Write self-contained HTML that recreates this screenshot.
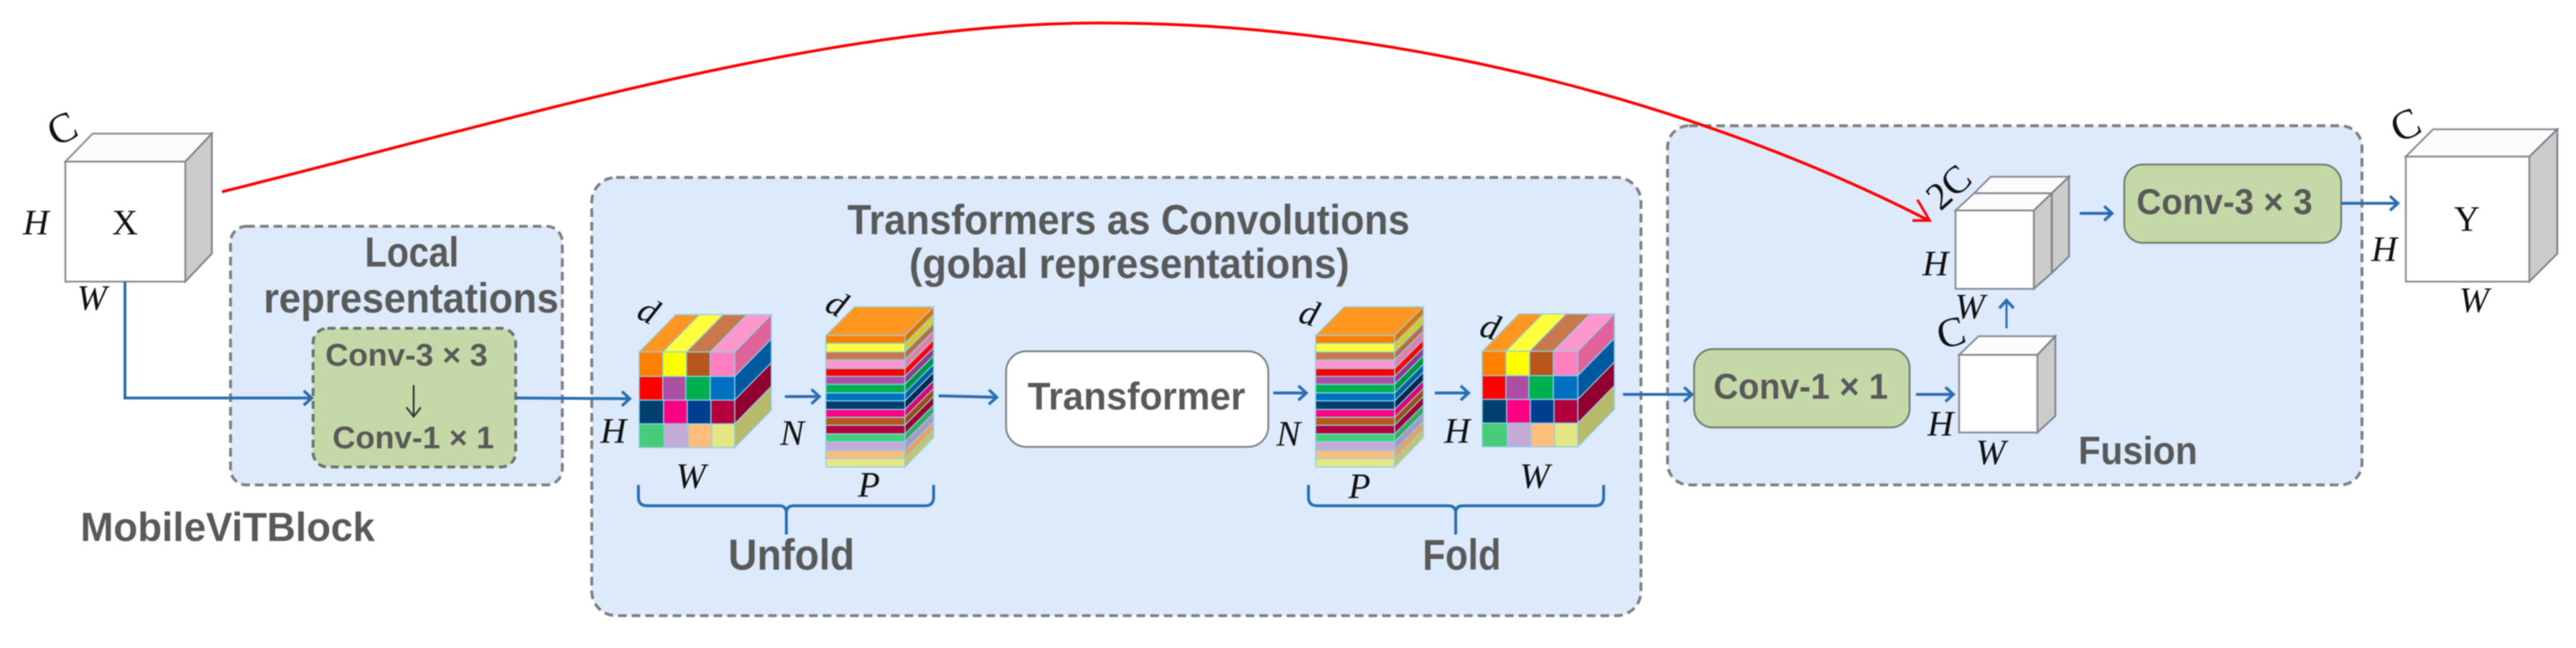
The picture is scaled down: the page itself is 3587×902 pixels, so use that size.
<!DOCTYPE html>
<html><head><meta charset="utf-8"><style>
html,body{margin:0;padding:0;background:#fff}
svg{display:block;filter:blur(0.7px)}
.h{font-family:"Liberation Sans",sans-serif;font-weight:bold;fill:#595959}
.m{font-family:"Liberation Serif",serif;font-style:italic;font-size:50px;fill:#111;text-anchor:middle}
.r{font-family:"Liberation Serif",serif;font-size:50px;fill:#111;text-anchor:middle}
.b{fill:none;stroke:#2a6eb0;stroke-width:4}
.panel{fill:#dceafb;stroke:#7f7f7f;stroke-width:4;stroke-dasharray:12 7}
.box{fill:#c5d9a8;stroke:#707a70;stroke-width:2.5}
.f{fill:#fff;stroke:#8a8a96;stroke-width:2.5}
.t{fill:#fcfcfc;stroke:#8a8a96;stroke-width:2.5}
.s{fill:#ccc;stroke:#80808a;stroke-width:2.5}
.c polygon,.c rect{stroke:#8ccfe8;stroke-width:1.5}
</style></head><body>
<svg xmlns="http://www.w3.org/2000/svg" width="3587" height="902" viewBox="0 0 3587 902">
<defs>
<marker id="a" markerUnits="userSpaceOnUse" markerWidth="24" markerHeight="30" refX="18" refY="14" orient="auto" overflow="visible"><path d="M7,4 L18,14 L7,24" fill="none" stroke="#2a6eb0" stroke-width="4"/></marker>
<marker id="k" markerUnits="userSpaceOnUse" markerWidth="30" markerHeight="30" refX="19" refY="12" orient="auto" overflow="visible"><path d="M6,2 L19,12 L6,22" fill="none" stroke="#333" stroke-width="2.5"/></marker>

<g id="grid" class="c">
<polygon points="890,490 941,438 974,438 923,490" fill="#ff9620"/>
<polygon points="923,490 974,438 1007,438 956,490" fill="#ffff3c"/>
<polygon points="956,490 1007,438 1040,438 989,490" fill="#c8784a"/>
<polygon points="989,490 1040,438 1074,438 1023,490" fill="#ff97cc"/>
<polygon points="1023,490 1074,438 1074,472 1023,524" fill="#e0649a"/>
<polygon points="1023,524 1074,472 1074,505 1023,557" fill="#00589f"/>
<polygon points="1023,557 1074,505 1074,538 1023,590" fill="#900030"/>
<polygon points="1023,590 1074,538 1074,571 1023,623" fill="#b8b96a"/>
<rect x="890" y="490" width="33" height="34" fill="#ff7f00"/><rect x="923" y="490" width="33" height="34" fill="#ffff00"/><rect x="956" y="490" width="33" height="34" fill="#b9561b"/><rect x="989" y="490" width="34" height="34" fill="#ff7fbf"/>
<rect x="890" y="524" width="33" height="33" fill="#ff0000"/><rect x="923" y="524" width="32" height="33" fill="#ac4ea2"/><rect x="955" y="524" width="34" height="33" fill="#00b050"/><rect x="989" y="524" width="34" height="33" fill="#0070c0"/>
<rect x="890" y="557" width="34" height="33" fill="#003f6f"/><rect x="924" y="557" width="33" height="33" fill="#ff0084"/><rect x="957" y="557" width="33" height="33" fill="#003f8f"/><rect x="990" y="557" width="33" height="33" fill="#b3003c"/>
<rect x="890" y="590" width="35" height="33" fill="#47cd7a"/><rect x="925" y="590" width="33" height="33" fill="#c3abd5"/><rect x="958" y="590" width="33" height="33" fill="#ffbd7c"/><rect x="991" y="590" width="32" height="33" fill="#e6e685"/>
</g>

<g id="stripes" class="c">
<polygon points="1150,467 1190,427 1300,427 1260,467" fill="#ff9620"/>
<polygon points="1260,467 1300,427 1300,438 1260,478" fill="#e07000"/>
<polygon points="1260,478 1300,438 1300,450 1260,490" fill="#d6c936"/>
<polygon points="1260,490 1300,450 1300,461 1260,501" fill="#b87042"/>
<polygon points="1260,501 1300,461 1300,473 1260,513" fill="#e080aa"/>
<polygon points="1260,513 1300,473 1300,484 1260,524" fill="#ff0000"/>
<polygon points="1260,524 1300,484 1300,495 1260,535" fill="#903a88"/>
<polygon points="1260,535 1300,495 1300,507 1260,547" fill="#009640"/>
<polygon points="1260,547 1300,507 1300,518 1260,558" fill="#00609f"/>
<polygon points="1260,558 1300,518 1300,530 1260,570" fill="#002a4f"/>
<polygon points="1260,570 1300,530 1300,541 1260,581" fill="#e0006f"/>
<polygon points="1260,581 1300,541 1300,552 1260,592" fill="#a04c10"/>
<polygon points="1260,592 1300,552 1300,564 1260,604" fill="#9a0030"/>
<polygon points="1260,604 1300,564 1300,575 1260,615" fill="#3aa860"/>
<polygon points="1260,615 1300,575 1300,587 1260,627" fill="#a69ac0"/>
<polygon points="1260,627 1300,587 1300,598 1260,638" fill="#e8a060"/>
<polygon points="1260,638 1300,598 1300,609 1260,650" fill="#c4c46a"/>
<rect x="1150" y="467" width="110" height="11" fill="#ff7f00"/>
<rect x="1150" y="478" width="110" height="12" fill="#ffff3c"/>
<rect x="1150" y="490" width="110" height="11" fill="#c8784a"/>
<rect x="1150" y="501" width="110" height="12" fill="#ff97cc"/>
<rect x="1150" y="513" width="110" height="11" fill="#ff0000"/>
<rect x="1150" y="524" width="110" height="11" fill="#ac4ea2"/>
<rect x="1150" y="535" width="110" height="12" fill="#00b050"/>
<rect x="1150" y="547" width="110" height="11" fill="#0070c0"/>
<rect x="1150" y="558" width="110" height="12" fill="#003f6f"/>
<rect x="1150" y="570" width="110" height="11" fill="#ff0084"/>
<rect x="1150" y="581" width="110" height="11" fill="#b9561b"/>
<rect x="1150" y="592" width="110" height="12" fill="#b3003c"/>
<rect x="1150" y="604" width="110" height="11" fill="#47cd7a"/>
<rect x="1150" y="615" width="110" height="12" fill="#c3abd5"/>
<rect x="1150" y="627" width="110" height="11" fill="#ffbd7c"/>
<rect x="1150" y="638" width="110" height="12" fill="#e6e685"/>
</g>
</defs>

<rect width="3587" height="902" fill="#fff"/>

<!-- panels -->
<rect class="panel" x="321" y="315" width="462" height="360" rx="22"/>
<rect class="panel" x="824" y="247" width="1461" height="610" rx="34"/>
<rect class="panel" x="2322" y="175" width="967" height="500" rx="30"/>

<!-- X cube -->
<polygon class="t" points="91,225 129,186 295,186 258,225"/>
<polygon class="s" points="258,225 295,186 295,353 258,392"/>
<rect class="f" x="91" y="225" width="167" height="167"/>
<text class="r" x="174" y="326">X</text>
<text class="m" x="50" y="326">H</text>
<text class="m" x="128" y="431">W</text>
<text class="r" font-size="58" style="font-size:58px" transform="translate(87,180) rotate(-25)" y="18">C</text>

<!-- Local -->
<text class="h" x="508" y="371" font-size="58" style="font-size:58px" textLength="131" lengthAdjust="spacingAndGlyphs">Local</text>
<text class="h" x="367" y="435" font-size="58" textLength="411" lengthAdjust="spacingAndGlyphs">representations</text>
<rect x="436" y="457" width="282" height="193" rx="20" fill="#c5d9a8" stroke="#707070" stroke-width="4" stroke-dasharray="11 7"/>
<text class="h" x="453" y="509" font-size="44" textLength="226" lengthAdjust="spacingAndGlyphs">Conv-3 × 3</text>
<text class="h" x="463" y="624" font-size="44" textLength="225" lengthAdjust="spacingAndGlyphs">Conv-1 × 1</text>
<path d="M576,536 V580" fill="none" stroke="#333" stroke-width="2.5" marker-end="url(#k)"/>
<path class="b" d="M174,392 V554 H434" marker-end="url(#a)"/>
<path class="b" d="M718,554 L877,555" marker-end="url(#a)"/>

<!-- Transformers panel -->
<text class="h" x="1180" y="326" font-size="58" textLength="783" lengthAdjust="spacingAndGlyphs">Transformers as Convolutions</text>
<text class="h" x="1266" y="387" font-size="58" textLength="613" lengthAdjust="spacingAndGlyphs">(gobal representations)</text>

<use href="#grid"/>
<use href="#stripes"/>
<use href="#stripes" x="682"/>
<use href="#grid" x="1174" y="-1"/>

<path class="b" d="M1093,552 H1141" marker-end="url(#a)"/>
<path class="b" d="M1307,551 L1388,553" marker-end="url(#a)"/>
<rect x="1401" y="489" width="365" height="133" rx="28" fill="#fff" stroke="#7f7f7f" stroke-width="2.5"/>
<text class="h" x="1431" y="570" font-size="54" textLength="303" lengthAdjust="spacingAndGlyphs">Transformer</text>
<path class="b" d="M1773,547 H1819" marker-end="url(#a)"/>
<path class="b" d="M1998,547 H2045" marker-end="url(#a)"/>

<text class="m" transform="translate(903,433) rotate(28)" y="16">d</text>
<text class="m" transform="translate(1165,423) rotate(28)" y="16">d</text>
<text class="m" transform="translate(1823,436) rotate(18)" y="16">d</text>
<text class="m" transform="translate(2075,455) rotate(18)" y="16">d</text>
<text class="m" x="854" y="616">H</text>
<text class="m" x="1103" y="619">N</text>
<text class="m" x="962" y="679">W</text>
<text class="m" x="1210" y="691">P</text>
<text class="m" x="1794" y="620">N</text>
<text class="m" x="1893" y="693">P</text>
<text class="m" x="2029" y="616">H</text>
<text class="m" x="2137" y="679">W</text>

<!-- braces -->
<path class="b" d="M889,675 V692 Q889,704 901,704 H1085 Q1095,704 1095,714 Q1095,704 1105,704 H1288 Q1300,704 1300,692 V675 M1095,714 V744"/>
<path class="b" d="M1822,675 V692 Q1822,704 1834,704 H2017 Q2027,704 2027,714 Q2027,704 2037,704 H2221 Q2233,704 2233,692 V675 M2027,714 V744"/>
<text class="h" x="1014" y="793" font-size="60" textLength="176" lengthAdjust="spacingAndGlyphs">Unfold</text>
<text class="h" x="1981" y="793" font-size="60" textLength="109" lengthAdjust="spacingAndGlyphs">Fold</text>
<text class="h" x="112" y="753" font-size="57" fill="#606060" textLength="410" lengthAdjust="spacingAndGlyphs">MobileViTBlock</text>

<!-- Fusion -->
<path class="b" d="M2260,549 H2356" marker-end="url(#a)"/>
<rect class="box" x="2359" y="486" width="300" height="109" rx="26"/>
<text class="h" x="2386" y="555" font-size="50" textLength="243" lengthAdjust="spacingAndGlyphs">Conv-1 × 1</text>
<path class="b" d="M2668,549 H2720" marker-end="url(#a)"/>

<polygon class="t" points="2728,494 2755,468 2862,468 2837,494"/>
<polygon class="s" points="2837,494 2862,468 2862,579 2837,602"/>
<rect class="f" x="2728" y="494" width="109" height="108"/>
<text class="m" x="2702" y="606">H</text>
<text class="m" x="2772" y="646">W</text>
<text class="r" style="font-size:58px" transform="translate(2717,464) rotate(-15)" y="18">C</text>

<path d="M2794,457 V418" fill="none" stroke="#2a6eb0" stroke-width="3" marker-end="url(#a)"/>

<polygon class="t" points="2772,246 2881,246 2857,269 2749,269"/>
<polygon class="s" points="2857,269 2881,246 2881,357 2857,380"/>
<polygon class="t" points="2723,293 2749,269 2857,269 2832,293"/>
<polygon class="s" points="2832,293 2857,269 2857,380 2832,402"/>
<rect class="f" x="2723" y="293" width="109" height="109"/>
<text class="m" x="2695" y="383">H</text>
<text class="m" x="2743" y="443">W</text>
<text class="r" style="font-size:54px" transform="translate(2714,261) rotate(-42)" y="17">2C</text>

<path class="b" d="M2896,297 H2941" marker-end="url(#a)"/>
<rect class="box" x="2958" y="229" width="302" height="109" rx="26"/>
<text class="h" x="2975" y="298" font-size="50" textLength="245" lengthAdjust="spacingAndGlyphs">Conv-3 × 3</text>
<path class="b" d="M3260,283 H3339" marker-end="url(#a)"/>
<text class="h" x="2894" y="646" font-size="55" textLength="166" lengthAdjust="spacingAndGlyphs">Fusion</text>

<!-- Y cube -->
<polygon class="t" points="3350,218 3388,180 3561,180 3522,218"/>
<polygon class="s" points="3522,218 3561,180 3561,353 3522,392"/>
<rect class="f" x="3350" y="218" width="172" height="174"/>
<text class="r" x="3435" y="321">Y</text>
<text class="m" x="3320" y="363">H</text>
<text class="m" x="3445" y="434">W</text>
<text class="r" style="font-size:58px" transform="translate(3350,175) rotate(-25)" y="18">C</text>

<!-- red -->
<path d="M309,267 C720,165 1150,32 1533,32 C1980,32 2400,160 2686,307" fill="none" stroke="#ff0000" stroke-width="4"/>
<path d="M2663,307 H2687 L2670,278" fill="none" stroke="#ff0000" stroke-width="3.5"/>
</svg>
</body></html>
